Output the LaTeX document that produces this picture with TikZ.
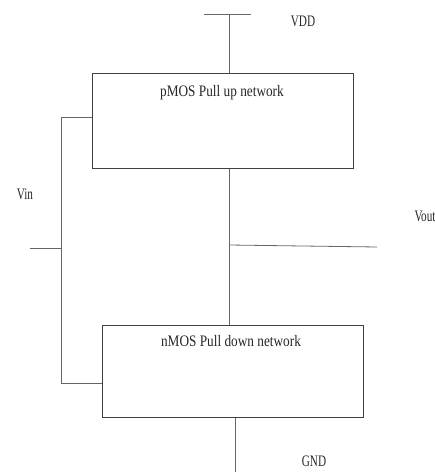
\documentclass[tikz,border=0pt]{standalone}
\usepackage{fontspec}
\setmainfont{Liberation Serif}
\usepackage{graphicx}
\begin{document}
\begin{tikzpicture}[x=1pt,y=-1pt,
  wire/.style={draw=black!60, line width=0.8pt},
  netbox/.style={draw=black!75, line width=0.8pt, rectangle, inner sep=0pt,
                 minimum width=261pt, anchor=north west},
  lbl/.style={font=\fontsize{16}{19}\selectfont, text=black!85, inner sep=0pt, anchor=base}]
\useasboundingbox (0,0) rectangle (435,472);

% pull-up and pull-down networks
\node[netbox, minimum height=95pt] (pu) at (92,73) {};
\node[netbox, minimum height=92pt] (pd) at (102,325) {};
\node[lbl] (putext) at (222,96) {\scalebox{0.83}[1]{pMOS Pull up network}};
\node[lbl] (pdtext) at (231,346) {\scalebox{0.83}[1]{nMOS Pull down network}};

% supply rail
\coordinate (vddl) at (204,14);
\coordinate (vddr) at (251,14);
\coordinate (vdd) at (229,14);
\draw[wire] (vddl) -- (vddr);
\draw[wire] (vdd) -- (vdd |- pu.north);
\node[lbl] (vddtext) at (303,26) {\scalebox{0.7}[1]{VDD}};

% output node
\coordinate (out) at (229,245);
\coordinate (vout) at (377,247);
\draw[wire] (pu.south -| out) -- (pd.north -| out);
\draw[wire] (out) -- (vout);
\node[lbl] (vouttext) at (425,221.5) {\scalebox{0.7}[1]{Vout}};

% input wiring to both gates
\coordinate (intop) at (61,117);
\coordinate (inbot) at (61,383);
\coordinate (instub) at (30,248);
\draw[wire] (pu.west |- intop) -- (intop) -- (inbot) -- (pd.west |- inbot);
\draw[wire] (instub) -- (instub -| intop);
\node[lbl] (vintext) at (25,199) {\scalebox{0.7}[1]{Vin}};

% ground
\coordinate (gnd) at (235,472);
\draw[wire] (pd.south -| gnd) -- (gnd);
\node[lbl] (gndtext) at (314,466.5) {\scalebox{0.7}[1]{GND}};
\end{tikzpicture}
\end{document}
